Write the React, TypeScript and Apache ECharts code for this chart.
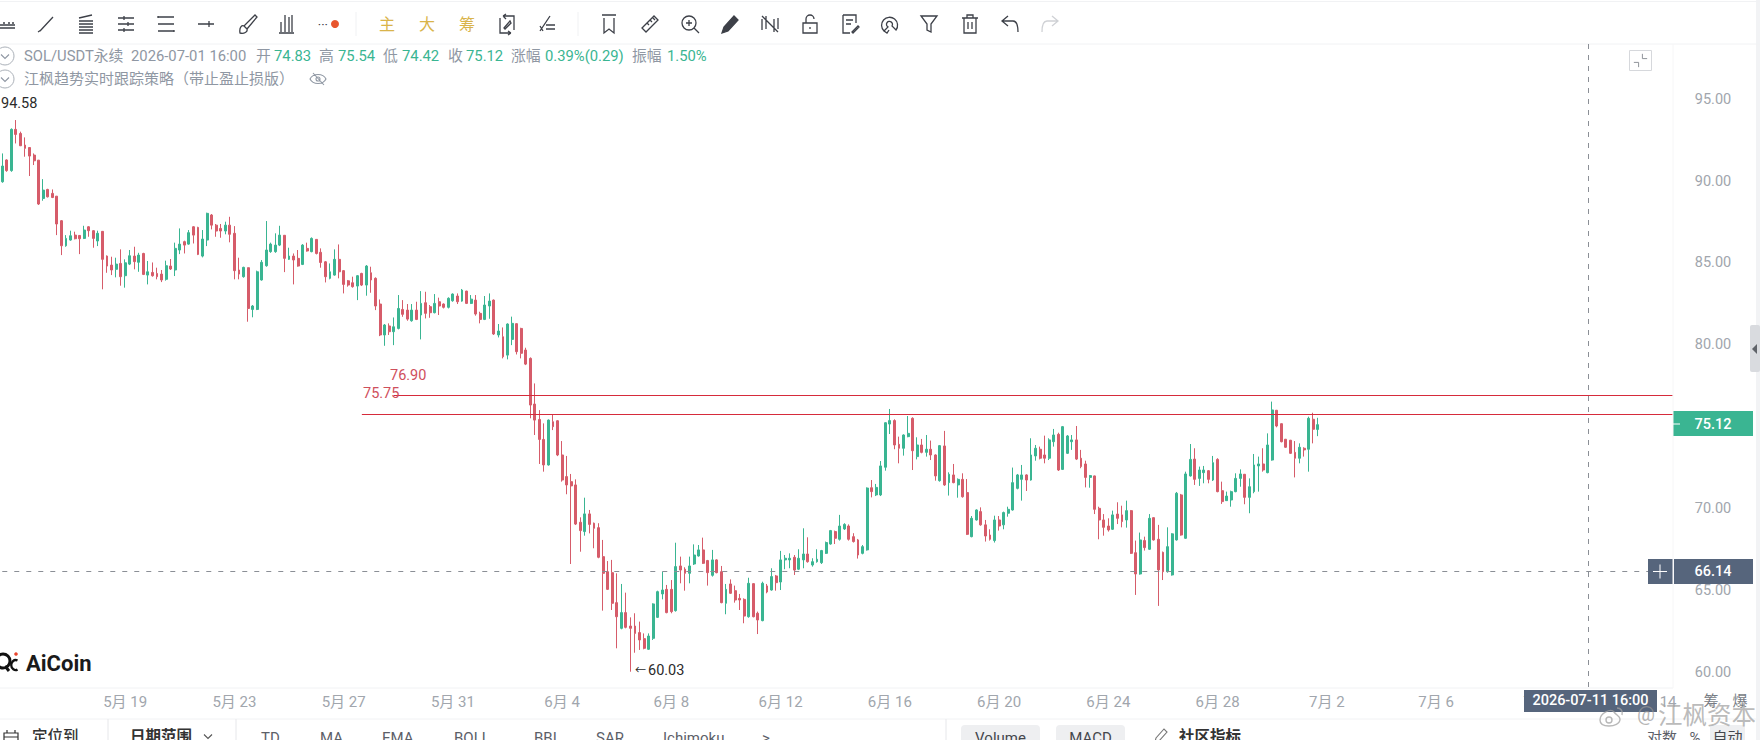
import React, { useEffect, useRef } from "react";
import * as echarts from "echarts";

// [open, close, low, high]
const candlesMidMay = [
[89.96,90.92,89.90,91.69],[91.29,90.64,90.57,91.33],[90.64,93.16,90.57,93.22],[93.16,92.85,92.30,93.73],[92.91,92.16,92.14,93.02],[92.20,92.00,91.49,92.67],[92.05,91.53,90.31,92.06],[91.59,91.24,90.98,91.69],[91.28,88.60,88.54,91.29],[88.94,89.45,88.80,90.12],
[89.49,89.04,89.00,89.53],[89.25,89.00,88.96,89.49],[89.08,87.38,86.70,89.09],[87.58,86.05,85.48,87.62],[86.05,86.50,85.99,86.70],[86.40,86.66,86.36,86.97],[86.70,86.48,86.44,86.91],[86.68,86.48,85.54,86.70],[86.50,87.01,86.46,87.27],[87.21,86.97,86.60,87.25],
[86.97,86.50,85.93,87.01],[86.34,86.81,86.03,86.97],[86.93,85.22,83.39,86.95],[85.42,84.81,84.40,85.46],[84.87,84.57,84.26,85.38],[84.61,84.93,84.12,85.32],[84.97,84.16,83.61,85.83],[84.22,85.01,83.49,85.22],[84.93,85.44,84.87,85.79],[85.42,85.08,84.61,85.99],
[85.04,85.48,84.46,85.62],[85.58,84.30,84.26,85.62],[84.26,84.46,83.69,85.12],[84.42,84.22,84.16,85.03],[84.36,84.16,84.00,84.71],[84.32,83.96,83.83,84.57],[84.00,84.83,83.92,85.14],[84.81,84.63,84.57,85.24],[84.57,85.89,84.20,86.24],[85.79,86.15,85.54,87.11],
[86.30,86.09,85.58,86.36],[86.15,86.85,86.11,87.01],[87.21,86.70,86.19,87.25],[87.17,85.52,85.48,87.21],[85.42,86.46,85.34,87.01],[86.40,88.03,86.03,88.07],[87.93,87.31,87.05,87.99],[87.31,86.95,86.60,87.38],[87.11,86.95,86.54,87.38],[86.95,87.31,86.75,87.52],
[87.31,86.75,86.26,87.82],[86.81,84.53,84.00,87.25],[84.57,84.32,84.00,85.32],[84.16,84.73,84.10,84.77],[84.71,82.22,81.41,84.72],[82.16,82.37,81.68,82.43],[82.16,84.46,82.12,84.53],[83.96,85.04,83.92,85.18],[84.83,85.79,84.77,87.56],[85.69,86.15,85.62,86.24],
[85.69,86.09,85.62,86.81],[86.09,86.70,86.03,87.27],[86.69,85.28,84.44,86.70],[85.22,85.42,85.18,85.93],
];
const candlesLateMay = [
[85.42,85.18,83.69,85.58],[85.28,84.81,84.77,85.79],[84.91,86.09,84.87,86.15],[85.89,85.73,85.69,86.24],[85.69,86.50,85.65,86.56],[86.44,85.58,85.52,86.46],[85.65,85.03,84.71,85.89],[85.07,84.16,83.81,85.12],[84.06,84.46,84.00,84.97],[84.26,85.22,84.22,85.83],
[85.22,84.46,84.06,86.13],[84.53,83.69,83.14,84.57],[83.91,83.65,83.55,83.96],[83.79,83.55,83.49,84.16],[83.59,84.22,82.73,84.26],[84.36,83.65,83.59,84.40],[83.65,84.81,83.00,84.87],[84.40,83.96,83.18,84.77],[84.06,82.37,82.12,84.12],[82.49,80.60,80.53,82.77],
[80.60,81.21,79.94,81.27],[81.15,80.80,80.60,81.31],[80.80,81.10,79.98,81.67],[81.00,82.22,80.94,83.04],[82.16,81.86,81.71,82.73],[82.12,81.57,81.47,82.49],[81.47,82.12,81.41,82.49],[82.12,81.55,81.51,82.63],[81.82,82.53,80.33,83.28],[82.57,81.92,81.61,83.24],
[82.33,81.96,81.65,82.43],[81.96,82.53,81.92,83.10],[82.63,82.37,81.82,82.88],[82.49,82.29,82.22,82.53],[82.29,82.84,82.22,82.90],[82.69,83.10,82.63,83.14],[82.98,82.63,82.49,83.14],[82.67,83.34,82.63,83.41],[83.28,82.53,82.49,83.30],[82.53,82.79,82.49,83.04],
[82.73,81.88,81.78,83.04],[81.92,81.55,81.31,82.02],[81.55,82.43,81.51,82.98],[82.37,82.67,81.59,83.14],[82.73,80.66,80.60,82.77],[80.60,80.84,80.45,81.27],[80.49,79.27,79.17,81.06],[79.37,81.27,79.11,81.31],[80.33,81.31,79.98,81.72],[81.29,79.58,79.41,81.31],
[81.00,79.48,79.17,81.04],[79.68,78.82,78.76,79.82],[79.17,76.32,75.51,79.23],[76.38,75.40,74.49,77.64],[75.44,74.22,72.72,76.01],[74.22,72.66,72.25,75.20],[72.66,75.40,72.62,75.44],[75.30,75.00,74.79,75.77],[75.36,73.27,73.20,75.40],
];
const candlesEarlyJune = [
[73.27,71.74,71.64,74.12],[71.95,71.44,70.87,73.21],[71.64,71.38,66.61,72.11],[71.44,69.05,68.99,71.78],[69.16,68.65,67.36,69.46],[68.59,69.67,68.34,70.66],[69.67,69.03,68.48,69.91],[69.10,68.79,67.57,69.14],[68.83,67.02,66.96,69.10],[67.06,66.04,63.76,68.08],
[66.14,65.06,65.02,66.79],[66.08,64.21,63.80,66.86],[64.25,63.39,61.46,66.04],[62.68,63.64,62.62,65.39],[63.64,62.74,62.68,64.86],[62.82,62.68,60.03,63.35],[62.82,62.37,61.19,63.60],[62.42,61.97,61.36,63.09],[62.05,61.46,61.40,62.37],[61.40,62.21,61.36,62.37],
[62.07,64.17,61.97,64.21],[63.35,64.92,63.31,64.98],[64.78,65.02,64.45,66.14],[65.06,63.64,63.60,65.33],[65.06,63.70,63.60,65.63],[63.76,66.45,63.70,67.91],[66.49,66.24,65.43,67.06],[66.29,66.04,64.98,66.41],[66.04,66.49,65.43,67.06],[66.61,67.16,66.55,67.81],
[67.10,67.47,67.06,67.77],[67.47,66.65,66.61,68.22],[66.82,66.08,65.29,66.86],[65.92,66.86,65.84,67.47],[66.86,66.08,66.04,66.90],[66.14,64.25,64.21,66.49],[64.21,65.06,63.54,65.39],[65.39,64.82,64.78,65.67],[64.98,64.41,64.25,65.29],[64.51,64.41,63.80,64.78],
[64.45,63.43,62.99,64.51],[63.39,65.43,63.33,65.77],[65.41,63.39,63.35,65.43],[63.60,63.19,62.33,63.70],[63.15,65.43,63.11,65.53],[65.27,64.90,64.82,65.39],[65.02,65.84,64.98,66.35],[65.88,65.47,64.98,65.94],[65.51,66.86,65.02,67.41],[66.86,66.96,66.29,67.16],
[66.86,66.96,66.35,67.26],[67.02,66.24,65.94,67.16],[66.29,66.96,66.24,67.51],[66.86,67.22,66.35,68.79],[67.22,66.75,66.69,68.24],[66.55,66.75,66.45,66.96],[66.75,66.90,66.69,67.51],
];
const candlesMidJune = [
[66.69,67.43,66.61,67.47],[67.26,67.92,67.22,67.98],[67.83,68.65,67.79,68.69],[68.59,68.18,67.83,68.65],[68.12,68.93,68.04,69.61],[68.75,69.03,68.69,69.10],[68.93,68.12,68.04,69.03],[68.28,67.98,67.92,68.49],[68.08,67.16,66.94,68.14],[67.26,67.67,67.20,67.77],
[67.47,71.25,67.43,71.29],[71.27,71.03,70.68,71.74],[70.83,71.29,70.76,71.50],[70.83,72.60,70.76,72.90],[72.52,75.24,72.31,75.27],[75.16,75.37,74.55,76.08],[75.37,73.88,73.62,75.45],[73.92,73.68,72.76,74.39],[73.68,74.49,73.23,74.53],[74.39,74.59,74.35,75.65],
[75.51,73.53,72.35,75.57],[73.17,73.88,73.00,74.35],[73.88,73.43,73.37,74.25],[73.43,73.62,73.17,74.49],[73.62,73.27,72.96,74.15],[73.27,71.99,71.70,73.31],[71.70,73.84,71.64,73.88],[73.82,71.44,71.38,74.74],[71.58,72.09,70.79,72.21],[72.05,71.58,71.54,72.72],
[71.44,71.78,70.66,71.84],[71.78,70.72,70.66,72.15],[70.97,68.42,68.38,71.80],[68.28,69.40,68.24,69.54],[69.30,69.91,69.26,69.95],[69.81,69.00,68.95,70.07],[69.00,68.32,67.98,69.30],[68.38,68.12,68.04,68.73],[68.04,69.30,67.92,69.56],[69.30,68.93,68.65,69.54],
[69.00,69.75,68.73,69.81],[69.71,69.95,69.50,70.11],[69.91,71.58,69.87,72.50],[71.23,72.05,71.17,72.11],[71.78,72.05,70.48,72.66],[72.05,71.74,71.07,72.09],[71.74,73.27,71.70,74.29],[73.21,73.68,72.92,73.88],[73.62,73.07,73.00,73.78],[73.27,73.07,72.76,74.45],
[73.07,74.19,72.96,74.29],[74.08,74.49,73.78,74.86],[74.53,72.35,72.29,74.63],
];
const candlesLateJune = [
[72.39,75.00,72.35,75.04],[73.37,74.43,73.33,74.49],[74.08,74.19,73.58,74.49],[74.19,73.02,72.96,75.04],[73.07,72.56,72.46,73.58],[72.72,71.90,71.29,72.92],[71.90,72.01,71.27,72.05],[71.99,69.95,69.66,72.01],[70.01,69.30,68.12,70.11],[69.30,68.85,68.34,69.66],
[68.93,68.69,68.59,69.40],[68.73,69.61,68.69,69.87],[69.66,69.40,69.05,70.38],[69.61,69.20,68.85,70.17],[69.30,69.87,68.83,70.48],[69.87,67.26,67.22,69.91],[67.30,66.00,64.72,68.04],[66.00,68.08,65.96,68.53],[68.04,67.61,67.43,68.28],[67.51,69.40,67.47,69.66],
[69.44,68.08,68.04,69.46],[68.12,66.25,64.05,69.00],[67.32,66.14,65.63,67.37],[66.14,67.67,66.08,68.85],[65.94,68.45,65.90,68.49],[68.08,70.93,68.04,71.01],[70.83,68.38,68.34,70.89],[68.18,72.11,68.14,72.25],[71.99,73.00,71.95,73.94],[73.02,71.78,71.44,73.68],
[71.84,72.35,71.38,72.56],[72.19,72.35,71.54,72.60],[72.31,71.78,71.54,72.35],[71.74,72.80,71.68,73.21],[73.00,71.03,70.99,73.07],[71.09,70.42,70.28,71.64],[70.48,70.76,70.46,71.03],[70.52,71.03,70.11,71.09],[71.03,71.84,70.99,72.15],[71.84,72.11,71.33,72.39],
[72.09,70.68,70.26,72.11],[70.68,71.33,69.71,71.84],[71.03,72.66,70.93,73.33],[72.60,72.72,71.03,73.17],[72.72,72.35,72.25,73.68],[72.19,73.88,72.15,74.59],[72.96,76.02,72.92,76.53],[76.00,75.04,74.96,76.02],[75.18,74.08,74.04,75.20],[74.23,73.74,73.70,74.25],
[74.17,73.37,73.33,74.19],[73.43,73.07,71.90,74.12],[73.07,73.74,72.76,73.98],[73.68,73.58,73.17,73.74],[73.62,75.51,72.25,75.61],[75.45,74.84,73.98,75.85],[74.83,75.12,74.42,75.54],
];
const candles = [...candlesMidMay, ...candlesLateMay, ...candlesEarlyJune, ...candlesMidJune, ...candlesLateJune];

const levelLines = [
  { value: 76.9, fromIndex: 86 },
  { value: 75.75, fromIndex: 79 },
];
const cursorPrice = 66.14;

// one slot per 4h bar; the axis runs past the data into the empty right side
const SLOT_COUNT = 368;
const firstBarMs = Date.UTC(2026, 4, 14, 12);
const barMs = 4 * 3600 * 1000;
const categories: string[] = [];
const tickFlags: boolean[] = [];
for (let i = 0; i < SLOT_COUNT; i++) {
  const d = new Date(firstBarMs + i * barMs);
  categories.push(`${d.getUTCMonth() + 1}月 ${d.getUTCDate()}`);
  tickFlags.push(i >= 27 && (i - 27) % 24 === 0);
}

const FONT = 'Roboto, "Noto Sans CJK SC", sans-serif';
const GRAY = "#8f97a3";
const AXIS_GRAY = "#a1a6ad";
const GREEN = "#3ab592";
const RED = "#d65c6a";
const SLATE = "#56657c";
const ICON = "#3d4048";

const toolbarIcons: [string, number, string][] = [
  ["i0", 6, "M-9 1H9 M-9 4H9 M-8 -1H-6 M-3 -1H-1 M2 -1H4 M6 -1H8"],
  ["i1", 46, "M-6 7L7 -7 M-8 8L-5 6"],
  ["i2", 86, "M-7 -6L6 -9 M-7 -3H7 M-7 0H7 M-7 3H7 M-7 6H7 M-7 9H7"],
  ["i3", 126, "M-8 -6H8 M-8 0H8 M-8 6H8 M-2 -8V-4 M2 -2V2 M-2 4V8"],
  ["i4", 166, "M-8 -7H8 M-8 0H8 M-8 7H8 M-8 -8V-6 M8 6V8"],
  ["i5", 206, "M-8 0H8 M3 -3V3"],
  ["i6", 248, "M-8 9C-9 3 -6 1 -4 2L7 -9L9 -7L-1 5C0 8 -4 10 -8 9Z M-4 2L-1 5"],
  ["i7", 287, "M-6 -2V8 M-2 -9V8 M2 -7V8 M5 -9V8 M-8 9H7"],
  ["i9", 507, "M-7 -6V9H4 M7 6V-8H-4 M-4 -8L-1 -10 M-4 -8L-1 -5 M4 9L1 7 M4 9L1 11 M-3 4L3 -3L4 -1L-2 5Z"],
  ["i10", 547, "M-7 7L3 -8 M-1 1H8 M-1 5H8 M-7 2L-4 7"],
  ["i11", 609, "M-7 -9H7 M-5 -6V9L0 5L5 9V-6"],
  ["i12", 650, "M-8 4L4 -8L8 -4L-4 8Z M-3 -1L-1 1 M0 -4L2 -2 M3 -6L5 -4"],
  ["i13", 690, "M6 -1A7 7 0 1 0 -8 -1A7 7 0 1 0 6 -1 M4 4L9 9 M-4 -1H2 M-1 -4V2"],
  ["i15", 770, "M-8 -8L8 8 M-8 -5V6 M-4 -8V5 M4 -5V8 M8 -6V5"],
  ["i16", 810, "M-7 -1H7V9H-7Z M-4 -1V-5A4 4 0 0 1 4 -5 M0 3V5"],
  ["i17", 850, "M-7 -9H6V-1 M-7 -9V9H0 M-4 -4H3 M-4 0H1 M2 8L8 2 L9 3 L3 9 Z"],
  ["i18", 890, "M-6 7A8 8 0 1 1 6 6L2 2A3 3 0 1 0 -2 3Z M-6 7L-3 9L-1 6"],
  ["i19", 929, "M-8 -8H8L2 0V8L-2 6V0Z"],
  ["i20", 970, "M-8 -6H8 M-3 -6V-9H3V-6 M-6 -6V9H6V-6 M-2 -2V5 M2 -2V5"],
  ["i21", 1010, "M-2 -8L-8 -3L-2 2 M-8 -3H3C7 -3 8 2 8 8"],
];
const miscIcons: [string, string][] = [
  ["redo", "M2 -8L8 -3L2 2 M8 -3H-3C-7 -3 -8 2 -8 8"],
  ["pen", "M-8 9L-6 3L4 -8L8 -4L-2 7Z"],
  ["chev", "M-4 -1.5L0 2.5L4 -1.5"],
  ["eye", "M-8 0C-5 -6 5 -6 8 0C5 6 -5 6 -8 0Z M-5 -6L6 6 M2 0A2 2 0 1 1 -2 0A2 2 0 1 1 2 0"],
  ["shrink", "M2 -7V-2H7 M-2 7V2H-7"],
  ["cal", "M-7 -5H7V7H-7Z M-7 -1H7 M-4 -8V-5 M4 -8V-5"],
  ["pencil2", "M-6 7L-5 3L3 -6L6 -3L-2 6Z"],
  ["weibo", "M-11 4C-11 -3 0 -8 3 -4C5 -1 9 0 9 3C9 8 3 10 -2 10C-7 10 -11 8 -11 4Z M-5 4A3 3 0 1 0 1 4A3 3 0 1 0 -5 4 M6 -8C10 -8 12 -5 11 -1"],
  ["logoQ", "M8 -1A7 7 0 1 0 -6 -1A7 7 0 1 0 8 -1 M3 4L7 9"],
  ["logoC", "M5 -5C1 -7 -2 -3 -2 0C-2 4 2 7 5 5"],
];
[...toolbarIcons.map(([n, , d]) => [n, d] as [string, string]), ...miscIcons].forEach(([n, d]) => {
  echarts.graphic.registerShape(n, echarts.graphic.extendPath(d, {}));
});

type TxtOpt = { fill?: string; size?: number; weight?: string | number; align?: string };
const txt = (x: number, y: number, text: string, o: TxtOpt = {}) => ({
  type: "text",
  x,
  y,
  z: 100,
  silent: true,
  style: {
    text,
    fill: o.fill ?? GRAY,
    font: `${o.weight ?? "normal"} ${o.size ?? 14}px ${FONT}`,
    textAlign: o.align ?? "left",
    textVerticalAlign: "middle",
  },
});
const rect = (x: number, y: number, width: number, height: number, fill: string, r = 0, stroke?: string) => ({
  type: "rect",
  z: 90,
  silent: true,
  shape: { x, y, width, height, r },
  style: { fill, stroke },
});
const hline = (x1: number, x2: number, y: number, stroke = "#f1f2f4") => ({
  type: "line",
  z: 95,
  silent: true,
  shape: { x1, y1: y, x2, y2: y },
  style: { stroke, lineWidth: 1 },
});
const vline = (x: number, y1: number, y2: number, stroke = "#f1f2f4", lineDash?: number[]) => ({
  type: "line",
  z: 95,
  silent: true,
  shape: { x1: x, y1, x2: x, y2 },
  style: { stroke, lineWidth: 1, lineDash },
});
const icon = (name: string, x: number, y: number, stroke = ICON, fill = "none", lineWidth = 1.3, scale = 1) => ({
  type: name,
  x,
  y,
  scaleX: scale,
  scaleY: scale,
  z: 100,
  silent: true,
  style: { stroke, fill, lineWidth },
});

const headerRuns: [number, string, string][] = [
  [24, "SOL/USDT永续", GRAY],
  [131, "2026-07-01 16:00", GRAY],
  [256, "开", GRAY],
  [274, "74.83", GREEN],
  [319, "高", GRAY],
  [338, "75.54", GREEN],
  [383, "低", GRAY],
  [402, "74.42", GREEN],
  [448, "收", GRAY],
  [466, "75.12", GREEN],
  [511, "涨幅", GRAY],
  [545, "0.39%(0.29)", GREEN],
  [632, "振幅", GRAY],
  [667, "1.50%", GREEN],
];
const goldButtons: [number, string][] = [
  [387, "主"],
  [427, "大"],
  [467, "筹"],
];
const bottomTabs: [number, string][] = [
  [261, "TD"],
  [320, "MA"],
  [382, "EMA"],
  [454, "BOLL"],
  [534, "BBI"],
  [596, "SAR"],
  [663, "Ichimoku"],
  [762, ">"],
];

function buildGraphics() {
  const g: any[] = [
    // frame lines
    hline(0, 1760, 1.5),
    hline(0, 1760, 44),
    hline(0, 1673, 688),
    hline(0, 1760, 719),
    vline(1673, 44, 688, "#f6f6f7"),
    rect(1756, 0, 4, 740, "#f2f3f5"),
    rect(1750, 325, 10, 47, "#d9dbdf", 2),
    { type: "polygon", z: 100, silent: true, shape: { points: [[1752, 349], [1757, 344], [1757, 354]] }, style: { fill: "#5f6369" } },
    vline(1588.5, 44, 688, "#8b8f96", [5, 6]),
    // toolbar
    ...toolbarIcons.map(([n, x]) => icon(n, x, 24)),
    icon("pen", 730, 24, ICON, ICON),
    icon("redo", 1050, 24, "#cfd1d5"),
    txt(328, 24, "···", { fill: ICON, size: 13, align: "right" }),
    { type: "circle", z: 100, silent: true, shape: { cx: 335, cy: 24, r: 4 }, style: { fill: "#e8552d" } },
    vline(356, 12, 36, "#f0f1f3"),
    vline(578, 12, 36, "#f0f1f3"),
    ...goldButtons.map(([x, t]) => txt(x, 24, t, { fill: "#d9b44a", size: 16, align: "center" })),
    // legend rows
    ...headerRuns.map(([x, t, c]) => txt(x, 56, t, { fill: c, size: 14.8 })),
    { type: "circle", z: 100, silent: true, shape: { cx: 5, cy: 56, r: 9 }, style: { fill: "#fff", stroke: "#aab0b8" } },
    { type: "circle", z: 100, silent: true, shape: { cx: 5, cy: 79, r: 9 }, style: { fill: "#fff", stroke: "#aab0b8" } },
    icon("chev", 5, 56, "#8f97a3", "none", 1.1),
    icon("chev", 5, 79, "#8f97a3", "none", 1.1),
    txt(24, 78.5, "江枫趋势实时跟踪策略（带止盈止损版）", { fill: GRAY, size: 15 }),
    icon("eye", 318, 79, "#8f97a3", "none", 1.1),
    // annotations
    txt(1, 103.5, "94.58", { fill: "#2b2b2b", size: 14.5 }),
    txt(390, 375, "76.90", { fill: "#cf4f5c", size: 14.5 }),
    txt(363, 393, "75.75", { fill: "#cf4f5c", size: 14.5 }),
    txt(635, 670.5, "←", { fill: "#2b2b2b", size: 11 }),
    txt(648, 670, "60.03", { fill: "#2b2b2b", size: 14.5 }),
    // fullscreen box
    rect(1629.5, 50.5, 22, 20, "#fff", 0, "#d6d8dc"),
    icon("shrink", 1640.5, 60.5, "#8a8e95", "none", 1, 0.95),
    // price tags
    rect(1673, 411, 80, 25, GREEN),
    hline(1673, 1680, 424, "#ffffff"),
    txt(1713, 424, "75.12", { fill: "#fff", size: 14.5, align: "center", weight: 500 }),
    rect(1648, 559, 25, 25, SLATE),
    hline(1653, 1667, 571.5, "#ffffff"),
    vline(1660, 564.5, 578.5, "#ffffff"),
    rect(1674, 559, 79, 25, SLATE),
    txt(1713, 571, "66.14", { fill: "#fff", size: 14.5, align: "center", weight: 500 }),
    // time tag
    rect(1524, 690, 133, 22, SLATE),
    txt(1590.5, 700.5, "2026-07-11 16:00", { fill: "#fff", size: 14.5, align: "center", weight: 500 }),
    txt(1711, 701, "筹", { fill: "#777c84", size: 15, align: "center" }),
    txt(1740, 701, "爆", { fill: "#777c84", size: 15, align: "center" }),
    // AiCoin logo
    icon("logoQ", 2, 662, "#111", "none", 3),
    icon("logoC", 13, 665, "#111", "none", 2.6, 0.9),
    { type: "circle", z: 100, silent: true, shape: { cx: 16, cy: 654, r: 1.8 }, style: { fill: "#e8452d" } },
    txt(26, 663.5, "AiCoin", { fill: "#1a1a1a", size: 22, weight: 700 }),
    // bottom strip
    vline(108, 719, 740, "#e6e7ea"),
    vline(236, 719, 740, "#e6e7ea"),
    vline(946, 719, 740, "#e6e7ea"),
    icon("cal", 11, 738, "#333", "none", 1.2),
    txt(32, 737, "定位到", { fill: "#333", size: 15.5, weight: 500 }),
    txt(130, 737, "日期范围", { fill: "#333", size: 15.5, weight: 600 }),
    icon("chev", 208, 736, "#555", "none", 1.1),
    ...bottomTabs.map(([x, t]) => txt(x, 738, t, { fill: "#5c6068", size: 15 })),
    rect(961, 725, 79, 30, "#eeeff1", 4),
    rect(1056, 725, 69, 30, "#eeeff1", 4),
    txt(1000.5, 738, "Volume", { fill: "#44474d", size: 15, align: "center" }),
    txt(1090.5, 738, "MACD", { fill: "#44474d", size: 15, align: "center" }),
    icon("pencil2", 1161, 735, "#777", "none", 1.1),
    txt(1179, 737, "社区指标", { fill: "#333", size: 15.5, weight: 600 }),
    txt(1647, 738, "对数", { fill: "#5c6068", size: 15 }),
    txt(1695, 738, "%", { fill: "#5c6068", size: 15, align: "center" }),
    rect(1710, 725, 35, 30, "#eeeff1", 3),
    txt(1727.5, 738, "自动", { fill: "#44474d", size: 15, align: "center" }),
    // watermark
    icon("weibo", 1611, 716, "rgba(160,160,160,0.75)", "none", 1.4),
    txt(1637, 714, "@", { fill: "rgba(150,150,150,0.7)", size: 20 }),
    txt(1658, 715, "江枫资本", { fill: "rgba(165,165,165,0.75)", size: 24.5 }),
  ];
  return g;
}

export default function App() {
  const ref = useRef<HTMLDivElement>(null);
  useEffect(() => {
    const chart = echarts.init(ref.current!, undefined, { renderer: "svg" });
    chart.setOption({
      animation: false,
      backgroundColor: "#ffffff",
      grid: { left: -1.98, width: 1677, top: 33.77, height: 654.8 },
      xAxis: {
        type: "category",
        data: categories,
        boundaryGap: true,
        axisLine: { show: false },
        axisTick: { show: false },
        splitLine: { show: false },
        axisLabel: {
          interval: (i: number) => tickFlags[i],
          margin: 5.5,
          color: AXIS_GRAY,
          fontFamily: FONT,
          fontSize: 15,
        },
      },
      yAxis: {
        type: "value",
        position: "right",
        min: 59,
        max: 99,
        interval: 1,
        axisLine: { show: false },
        axisTick: { show: false },
        splitLine: { show: false },
        axisLabel: {
          margin: 38,
          align: "center",
          color: AXIS_GRAY,
          fontFamily: FONT,
          fontSize: 14.5,
          padding: [0, 0, 2, 0],
          formatter: (v: number) => (v % 5 === 0 ? v.toFixed(2) : ""),
        },
      },
      series: [
        {
          type: "candlestick",
          data: candles,
          barWidth: 2.4,
          itemStyle: {
            color: GREEN,
            color0: RED,
            borderColor: GREEN,
            borderColor0: RED,
            borderWidth: 1,
          },
          markLine: {
            silent: true,
            symbol: "none",
            animation: false,
            label: { show: false },
            data: [
              ...levelLines.map((l) => [
                { coord: [l.fromIndex, l.value], lineStyle: { color: "#d62b3b", width: 1.2, type: "solid" } },
                { coord: [367, l.value] },
              ]),
              [
                { coord: [0, cursorPrice], lineStyle: { color: "#8b8f96", width: 1, type: [5, 7] } },
                { coord: [362, cursorPrice] },
              ],
            ],
          },
        },
      ],
      graphic: { elements: buildGraphics() },
    });
    return () => chart.dispose();
  }, []);
  return <div ref={ref} style={{ position: "absolute", left: 0, top: 0, width: 1760, height: 740 }} />;
}
